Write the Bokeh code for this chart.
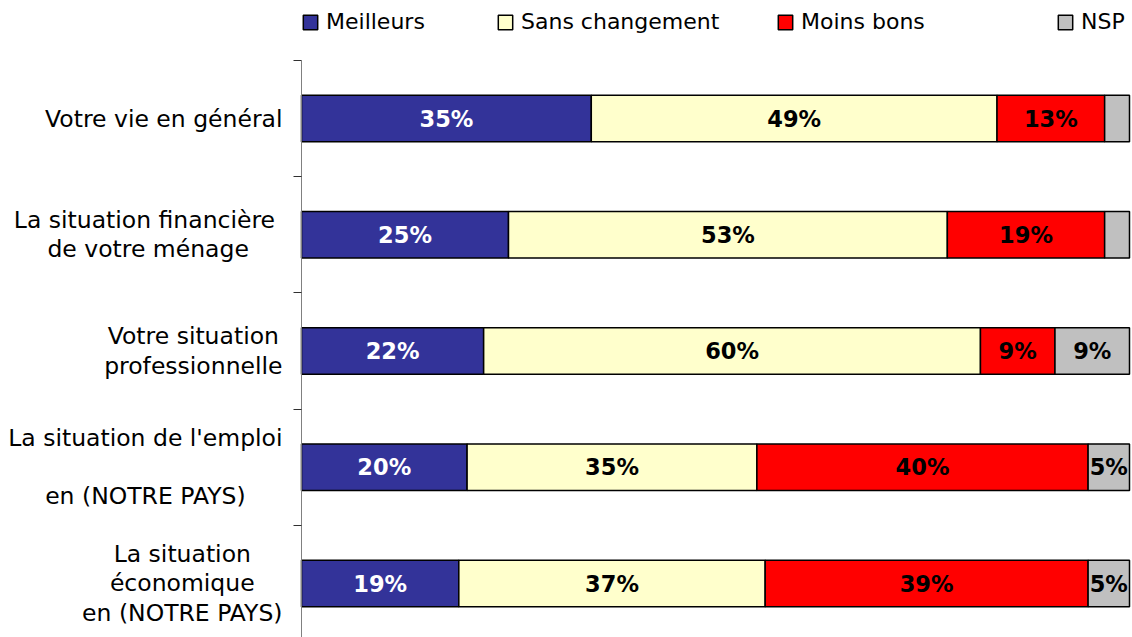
import glob
import subprocess
from bokeh.plotting import figure
from bokeh.models import Range1d, LinearAxis, FixedTicker, Legend, LegendItem, ColumnDataSource
from bokeh.core.properties import value
from bokeh.embed import file_html
from bokeh.resources import INLINE

categories = [
    "Votre vie en général",
    "La situation financière \nde votre ménage",
    "Votre situation\nprofessionnelle",
    "La situation de l'emploi\n\nen (NOTRE PAYS)",
    "La situation\néconomique\nen (NOTRE PAYS)",
]
series = ["Meilleurs", "Sans changement", "Moins bons", "NSP"]
meilleurs = [35, 25, 22, 20, 19]
sans_changement = [49, 53, 60, 35, 37]
moins_bons = [13, 19, 9, 40, 39]
nsp = [3, 3, 9, 5, 5]

colors = ["#333399", "#FFFFCC", "#FF0000", "#C0C0C0"]
label_colors = ["white", "black", "black", "black"]

FONT = "DejaVu Sans"
CAT_SIZE = 23.5
W, H = 1132, 637

# ---- text measuring (to centre wrapped category lines like the original) ----
def _font_path():
    try:
        out = subprocess.run(["fc-match", "-f", "%{file}", "DejaVu Sans"],
                             capture_output=True, text=True, timeout=5).stdout.strip()
        if out:
            return out
    except Exception:
        pass
    c = glob.glob("/usr/share/fonts/**/DejaVuSans.ttf", recursive=True)
    return c[0] if c else None

def text_width(s, size):
    try:
        from PIL import ImageFont
        f = ImageFont.truetype(_font_path(), 100)
        return f.getlength(s) * size / 100.0
    except Exception:
        return len(s) * 0.6 * size

# ---- layout (pixels) ----
AXIS_X, BAR_END = 301, 1129
ROW0, ROW_STEP = 118, 116.25
ppx = (BAR_END - AXIS_X) / 100.0
x_start, x_end = -AXIS_X / ppx, 100 + (W - BAR_END) / ppx
y_top, y_bottom = -ROW0 / ROW_STEP, (H - ROW0) / ROW_STEP

ys = list(range(len(categories)))
keys = ["meilleurs", "sans", "moins", "nsp"]
values_all = [meilleurs, sans_changement, moins_bons, nsp]
src = ColumnDataSource(dict(y=ys, **{k: v for k, v in zip(keys, values_all)}))

p = figure(width=W, height=H, x_range=Range1d(x_start, x_end), y_range=Range1d(y_bottom, y_top),
           x_axis_location=None, y_axis_location=None, toolbar_location=None,
           output_backend="svg", min_border=0, outline_line_color=None)
for g in p.grid:
    g.visible = False

renderers = p.hbar_stack(keys, y="y", height=0.4, color=colors, source=src,
                         line_color="black", line_width=1.5)

# data labels
lx, ly, lt, lc = [], [], [], []
for i in range(len(categories)):
    left = 0
    for s, vals in enumerate(values_all):
        v = vals[i]
        if v >= 5:
            lx.append(left + v / 2)
            ly.append(ys[i])
            lt.append(f"{v}%")
            lc.append(label_colors[s])
        left += v
p.text(x="x", y="y", text="text", text_color="color",
       source=ColumnDataSource(dict(x=lx, y=ly, text=lt, color=lc)),
       text_align="center", text_baseline="middle", text_font=value(FONT),
       text_font_style="bold", text_font_size="22.5px")

# category labels: block right-aligned next to the axis, lines centred
STANDOFF = 19
xoff = []
for c in categories:
    w = max(text_width(line, CAT_SIZE) for line in c.split("\n"))
    xoff.append(-(STANDOFF + w / 2))
p.text(x=0, y="y", text="text", x_offset="xoff",
       source=ColumnDataSource(dict(y=ys, text=categories, xoff=xoff)),
       text_align="center", text_baseline="middle", text_font=value(FONT),
       text_font_size=f"{CAT_SIZE}px", text_color="black", text_line_height=1.04)

# axis line with boundary ticks
yaxis = LinearAxis(
    fixed_location=0, bounds=(-0.5, y_bottom),
    ticker=FixedTicker(ticks=[], minor_ticks=[i - 0.5 for i in range(len(categories))]),
    major_tick_out=0, major_tick_in=0, minor_tick_out=8, minor_tick_in=0,
    axis_line_color="#808080", minor_tick_line_color="#303030",
    major_label_text_font_size="0px",
)
p.add_layout(yaxis, "left")

legend_x = [301, 496, 776, 1056]
for r, name, lxp in zip(renderers, series, legend_x):
    lg = Legend(items=[LegendItem(label=name, renderers=[r])], location=(lxp, 603),
                orientation="horizontal", glyph_width=18, glyph_height=18,
                label_standoff=7, padding=0, margin=0, spacing=0,
                border_line_color=None, background_fill_alpha=0,
                label_text_font=FONT, label_text_font_size="22px",
                label_text_color="black")
    p.add_layout(lg)

open("out.html", "w").write(file_html(p, INLINE))
